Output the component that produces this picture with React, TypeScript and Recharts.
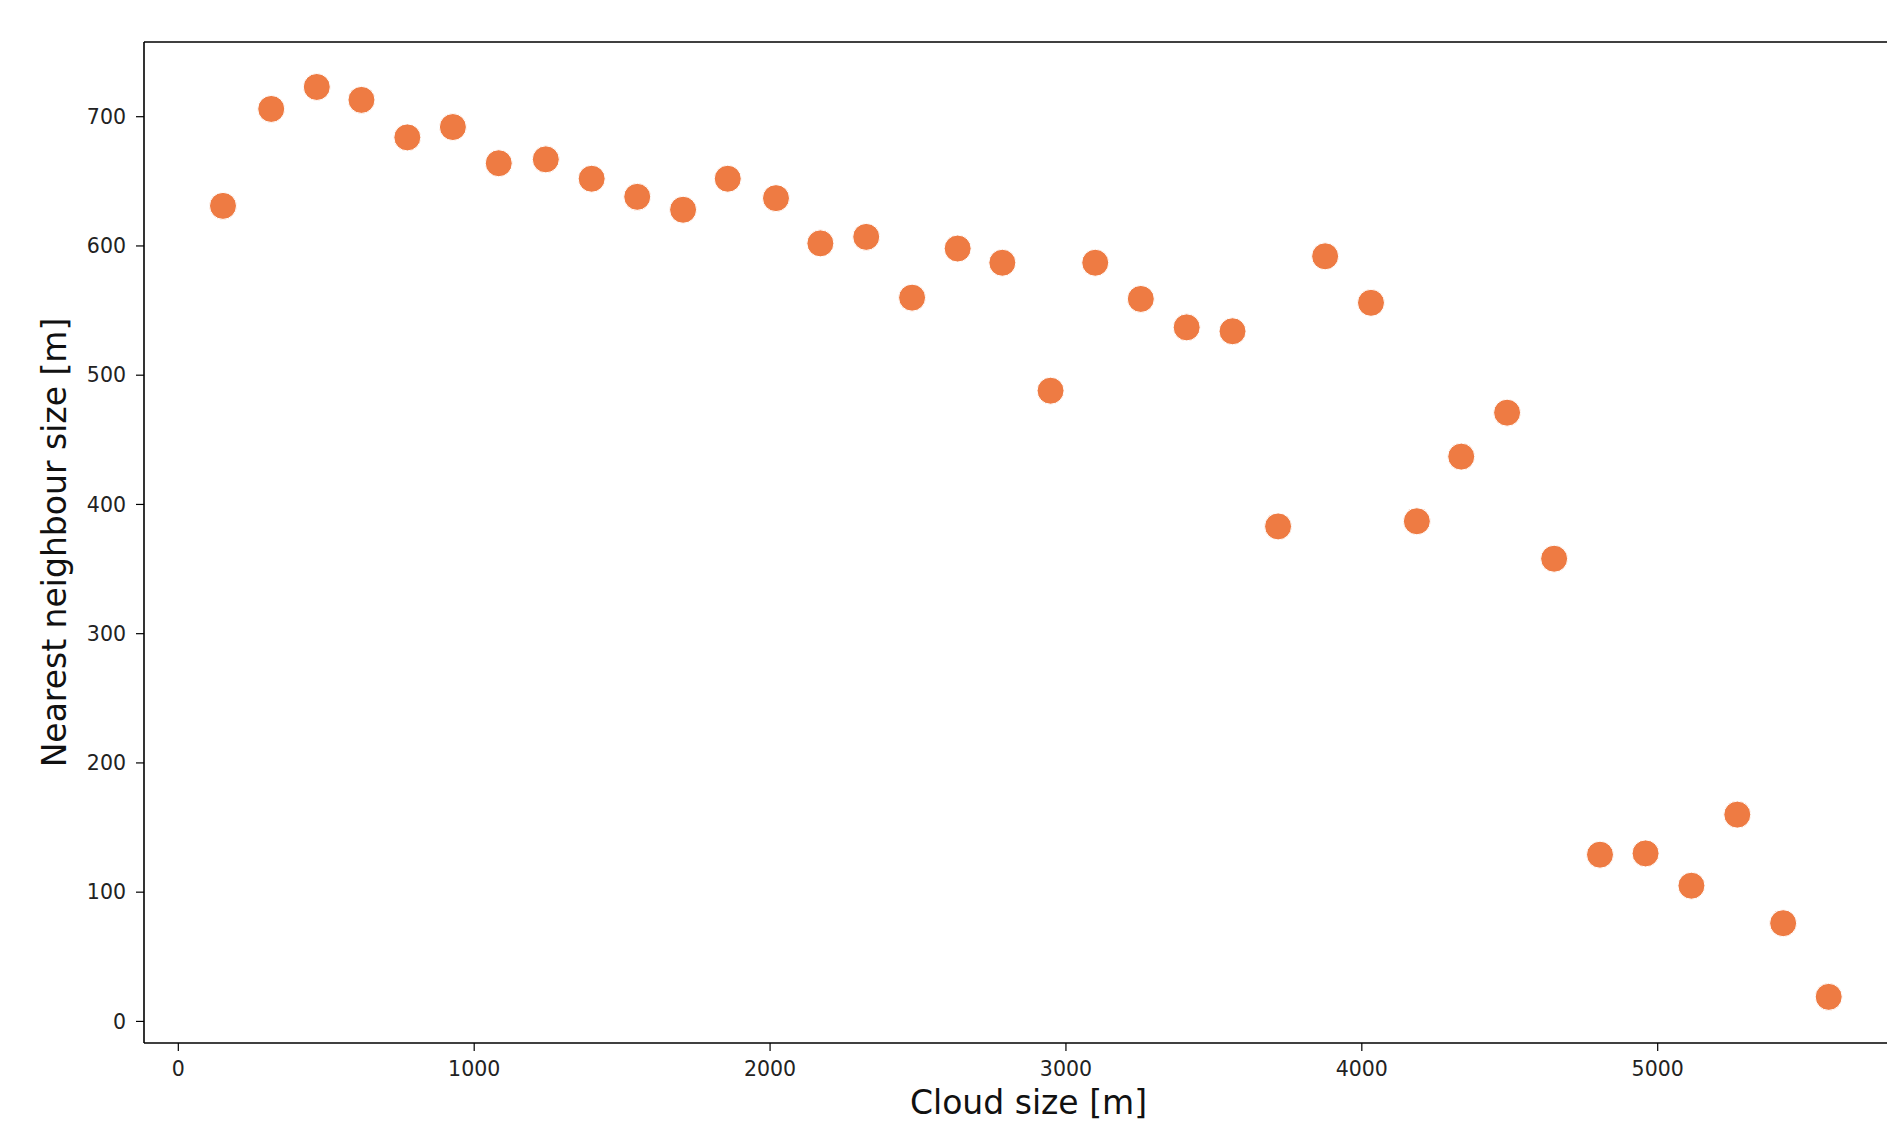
import React from 'react';
import { ReferenceLine, Scatter, ScatterChart, XAxis, YAxis } from 'recharts';

// cloud size bins [m]
const cloudSize = [
  151, 314, 468, 619, 774, 928, 1083, 1242, 1397, 1551, 1706, 1857,
  2020, 2170, 2325, 2480, 2634, 2785, 2948, 3099, 3253, 3408, 3563, 3717,
  3876, 4031, 4186, 4336, 4491, 4650, 4805, 4959, 5114, 5269, 5424, 5578
];

// nearest neighbour size [m]
const neighbourSize = [
  631, 706, 723, 713, 684, 692, 664, 667, 652, 638, 628, 652,
  637, 602, 607, 560, 598, 587, 488, 587, 559, 537, 534, 383,
  592, 556, 387, 437, 471, 358, 129, 130, 105, 160, 76, 19
];

const xTicks = [0, 1000, 2000, 3000, 4000, 5000];
const yTicks = [0, 100, 200, 300, 400, 500, 600, 700];

const X_DOMAIN: [number, number] = [-116, 5775];
const Y_DOMAIN: [number, number] = [-16.7, 757.8];

const DOT_COLOR = '#ee7b43';
const FONT = '"DejaVu Sans", sans-serif';

const points = cloudSize.map((x, i) => ({ x, y: neighbourSize[i] }));

const Dot = (props: any) => {
  const { cx, cy } = props;
  if (cx == null || cy == null) return null;
  return <circle cx={cx} cy={cy} r={13.5} fill={DOT_COLOR} stroke="#ffffff" strokeWidth={1} />;
};

export default function App() {
  return (
    <div style={{ position: 'absolute', left: 0, top: 0, width: 1887, height: 1124, overflow: 'hidden', background: '#fff' }}>
      <ScatterChart
        width={1887}
        height={1124}
        margin={{ top: 42, right: 0, bottom: 0, left: 0 }}
        style={{ fontFamily: FONT }}
      >
        <XAxis
          type="number"
          dataKey="x"
          domain={X_DOMAIN}
          ticks={xTicks}
          allowDataOverflow
          height={81}
          tickSize={8}
          tickMargin={10}
          axisLine={{ stroke: '#000', strokeWidth: 1.6 }}
          tickLine={{ stroke: '#000', strokeWidth: 1.2 }}
          tick={{ fill: '#222', fontSize: 20.5, fontFamily: FONT }}
          label={{
            value: 'Cloud size [m]',
            position: 'insideBottom',
            offset: 10,
            dx: 13,
            style: { fill: '#111', fontSize: 33, fontFamily: FONT }
          }}
        />
        <YAxis
          type="number"
          dataKey="y"
          domain={Y_DOMAIN}
          ticks={yTicks}
          allowDataOverflow
          width={144}
          tickSize={8}
          tickMargin={10}
          axisLine={{ stroke: '#000', strokeWidth: 1.6 }}
          tickLine={{ stroke: '#000', strokeWidth: 1.2 }}
          tick={{ fill: '#222', fontSize: 20.5, fontFamily: FONT }}
          label={{
            value: 'Nearest neighbour size [m]',
            angle: -90,
            position: 'insideLeft',
            offset: 54,
            style: { fill: '#111', fontSize: 33, fontFamily: FONT, textAnchor: 'middle' }
          }}
        />
        <ReferenceLine y={Y_DOMAIN[1]} stroke="#000" strokeWidth={1.6} ifOverflow="extendDomain" />
        <Scatter data={points} shape={<Dot />} isAnimationActive={false} />
      </ScatterChart>
    </div>
  );
}
